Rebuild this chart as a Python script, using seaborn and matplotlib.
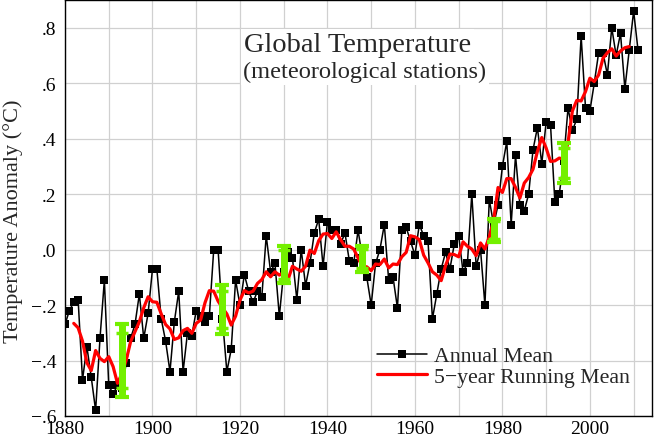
import numpy as np
import pandas as pd
import matplotlib
matplotlib.use('Agg')
import matplotlib.pyplot as plt
from matplotlib.ticker import MultipleLocator, FixedLocator, FixedFormatter
import seaborn as sns

# Annual mean anomaly (deg C), 1880-2011
years = list(range(1880, 2012))
annual = [
    -0.27, -0.22, -0.19, -0.18, -0.47, -0.35, -0.46, -0.58, -0.32, -0.11,  # 1880s
    -0.49, -0.52, -0.49, -0.50, -0.41, -0.32, -0.27, -0.16, -0.32, -0.23,  # 1890s
    -0.07, -0.07, -0.25, -0.33, -0.44, -0.26, -0.15, -0.44, -0.30, -0.31,  # 1900s
    -0.22, -0.24, -0.26, -0.24, 0.00, 0.00, -0.25, -0.44, -0.36, -0.11,    # 1910s
    -0.20, -0.09, -0.15, -0.19, -0.15, -0.17, 0.05, -0.08, -0.05, -0.24,   # 1920s
    -0.08, -0.01, -0.03, -0.18, 0.00, -0.13, -0.05, 0.06, 0.11, -0.06,     # 1930s
    0.10, 0.07, 0.07, 0.02, 0.06, -0.04, -0.05, 0.07, -0.03, -0.10,        # 1940s
    -0.20, -0.05, 0.00, 0.09, -0.11, -0.10, -0.21, 0.07, 0.08, 0.03,       # 1950s
    -0.02, 0.09, 0.05, 0.03, -0.25, -0.16, -0.07, -0.01, -0.07, 0.02,      # 1960s
    0.05, -0.08, -0.05, 0.20, -0.06, 0.00, -0.20, 0.18, 0.09, 0.16,        # 1970s
    0.30, 0.39, 0.09, 0.34, 0.16, 0.14, 0.20, 0.36, 0.44, 0.31,            # 1980s
    0.46, 0.45, 0.17, 0.20, 0.32, 0.51, 0.43, 0.47, 0.77, 0.51,            # 1990s
    0.50, 0.60, 0.71, 0.71, 0.63, 0.80, 0.70, 0.78, 0.58, 0.72,            # 2000s
    0.86, 0.72,                                                            # 2010s
]

# Uncertainty bars (green)
err_years = [1893, 1916, 1930, 1948, 1978, 1994]
err_low = [-0.53, -0.306, -0.122, -0.079, 0.029, 0.241]
err_high = [-0.27, -0.126, 0.014, 0.014, 0.112, 0.386]

ytick_vals = [-0.6, -0.4, -0.2, 0.0, 0.2, 0.4, 0.6, 0.8]
ytick_labels = ['\u2212.6', '\u2212.4', '\u2212.2', '.0', '.2', '.4', '.6', '.8']

df = pd.DataFrame({'year': years, 'annual': annual})
# centred 5-year running mean of the annual values
df['running'] = df['annual'].rolling(5, center=True).mean()

sns.set_style('whitegrid')
plt.rcParams['font.family'] = ['Liberation Serif', 'DejaVu Serif']

fig = plt.figure(figsize=(6.55, 4.39), dpi=100)
ax = fig.add_axes([65/655, 1 - 417/439, (652-65)/655, (417-1)/439])

sns.lineplot(data=df, x='year', y='annual', color='black', linewidth=1.1,
             marker='s', markersize=5.3, markeredgewidth=0, ax=ax,
             label='Annual Mean', zorder=3)
sns.lineplot(data=df.dropna(), x='year', y='running', color='#ff0000',
             linewidth=2.3, ax=ax, label='5\u2212year Running Mean', zorder=4)

lo = np.array(err_low)
hi = np.array(err_high)
mid = (lo + hi) / 2
half = (hi - lo) / 2
ax.errorbar(err_years, mid, yerr=half, fmt='none', ecolor='#74f000',
            elinewidth=5, capsize=5, capthick=3, zorder=5)
ax.errorbar(err_years, mid, yerr=half * 0.75, fmt='none', ecolor='#74f000',
            elinewidth=5, capsize=4, capthick=2.5, zorder=5)

ax.set_xlim(1880, 2014.2)
ax.set_ylim(-0.6, 0.9)
ax.xaxis.set_major_locator(MultipleLocator(20))
ax.xaxis.set_minor_locator(MultipleLocator(10))
ax.yaxis.set_major_locator(FixedLocator(ytick_vals))
ax.yaxis.set_major_formatter(FixedFormatter(ytick_labels))
ax.grid(which='both', color='#d0d0d0', linewidth=0.9)
ax.tick_params(which='both', length=0, labelsize=14, colors='black')
ax.tick_params(axis='x', pad=3)
ax.tick_params(axis='y', pad=6)
for s in ax.spines.values():
    s.set_color('black')
    s.set_linewidth(1.0)

ax.set_xlabel('')
ax.set_ylabel('Temperature Anomaly (\u00b0C)', fontsize=16)
ax.yaxis.set_label_coords(-0.071, 0.471)

ax.text(0.498, 0.893, 'Global Temperature', transform=ax.transAxes,
        ha='center', va='center', fontsize=20.5, zorder=6,
        bbox=dict(facecolor='white', edgecolor='none', pad=2))
ax.text(0.511, 0.828, '(meteorological stations)', transform=ax.transAxes,
        ha='center', va='center', fontsize=17.6, zorder=6,
        bbox=dict(facecolor='white', edgecolor='none', pad=2))

ax.legend(loc='upper left', bbox_to_anchor=(0.5315, 0.168), frameon=False,
          fontsize=15.7, handlelength=2.3, handletextpad=0.32,
          labelspacing=0.02, borderpad=0, borderaxespad=0)

fig.savefig('out.png', dpi=100)
